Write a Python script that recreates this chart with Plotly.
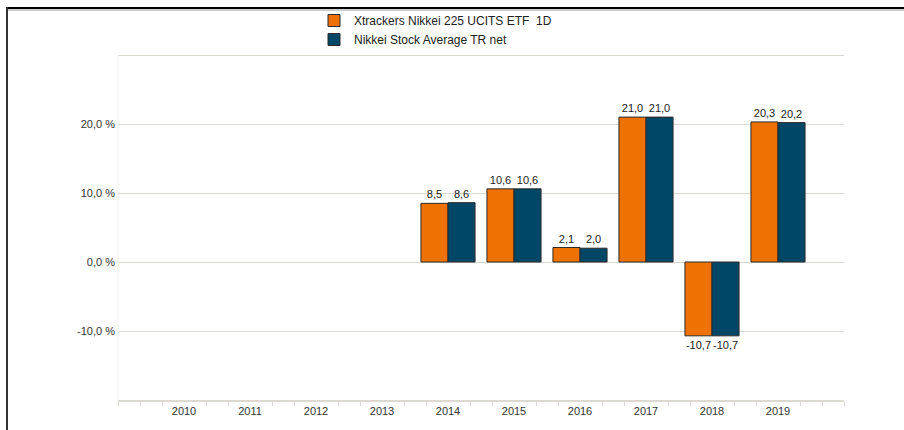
import plotly.graph_objects as go

years = ["2010", "2011", "2012", "2013", "2014", "2015", "2016", "2017", "2018", "2019"]
etf_values = [None, None, None, None, 8.5, 10.6, 2.1, 21.0, -10.7, 20.3]
index_values = [None, None, None, None, 8.6, 10.6, 2.0, 21.0, -10.7, 20.2]
etf_name = "Xtrackers Nikkei 225 UCITS ETF  1D"
index_name = "Nikkei Stock Average TR net"
y_tick_values = [-10, 0, 10, 20, 30]
y_tick_labels = ["-10,0 %", "0,0 %", "10,0 %", "20,0 %", ""]

FONT = "Liberation Sans, Arial, Helvetica, sans-serif"
ORANGE = "#EE7203"
NAVY = "#004667"
GRID = "#dcd9d2"

# geometry (pixels)
L, T, B = 118, 52, 30
PW = 726
PH = 430 - T - B
Y_TOP = 30 + 3 / 6.9


def fmt(v):
    return None if v is None else f"{v:.1f}".replace(".", ",")


xpos = list(range(len(years)))

fig = go.Figure()
for name, vals, col in [(etf_name, etf_values, ORANGE), (index_name, index_values, NAVY)]:
    fig.add_trace(go.Bar(
        x=xpos, y=vals, name=name,
        marker=dict(color=col, line=dict(color="#2b2b2b", width=1)),
        text=[fmt(v) for v in vals], textposition="outside",
        textfont=dict(family=FONT, size=11, color="#1a1a1a"),
        constraintext="none", cliponaxis=False,
    ))

n = len(years)
minor_vals = [k / 3 for k in range(-3, 3 * n + 1) if k % 3 != 0 or k in (-3, 3 * n)]


def px_x(p):
    return (p - L) / PW


def px_y(p):
    return (430 - B - p) / PH


fig.update_layout(
    width=904, height=430,
    margin=dict(l=L, r=904 - L - PW, t=T, b=B, autoexpand=False),
    paper_bgcolor="white", plot_bgcolor="white",
    font=dict(family=FONT, size=11, color="#333333"),
    barmode="group", bargap=0.18, bargroupgap=0,
    showlegend=True,
    legend=dict(
        x=px_x(314), y=px_y(6),
        xanchor="left", yanchor="top", orientation="v",
        font=dict(family=FONT, size=12, color="#222222"),
        bgcolor="rgba(0,0,0,0)", tracegroupgap=0,
    ),
    xaxis=dict(
        range=[-1, n], tickvals=xpos, ticktext=years, ticks="",
        tickangle=0, automargin=False,
        showgrid=False, zeroline=False,
        showline=True, linecolor=GRID, linewidth=2,
        tickfont=dict(family=FONT, size=11, color="#333333"),
        minor=dict(tickvals=minor_vals, ticks="outside", ticklen=4, tickwidth=1,
                   tickcolor=GRID, showgrid=False),
    ),
    yaxis=dict(
        range=[-20, Y_TOP], tickvals=y_tick_values, ticktext=y_tick_labels,
        showgrid=True, gridcolor=GRID, gridwidth=1, zeroline=False,
        showline=False,
        ticks="", ticklabelstandoff=2, automargin=False,
        tickfont=dict(family=FONT, size=11, color="#333333"),
    ),
)

# faint left edge of plot area
fig.add_shape(type="line", xref="paper", yref="paper",
              x0=0, x1=0, y0=0, y1=px_y(55),
              line=dict(color="#f0f0f0", width=1))
# frame decoration (top and left border of the original page)
fig.add_shape(type="line", xref="paper", yref="paper",
              x0=px_x(6), x1=px_x(904), y0=px_y(8), y1=px_y(8),
              line=dict(color="#000000", width=2))
fig.add_shape(type="line", xref="paper", yref="paper",
              x0=px_x(6), x1=px_x(904), y0=px_y(10), y1=px_y(10),
              line=dict(color="#9a9a9a", width=1))
fig.add_shape(type="line", xref="paper", yref="paper",
              x0=px_x(7), x1=px_x(7), y0=px_y(7), y1=px_y(432),
              line=dict(color="#333333", width=2))

fig.write_html("out.html", config={"displayModeBar": False},
               post_script="document.body.style.margin='0';document.body.style.overflow='hidden';")
